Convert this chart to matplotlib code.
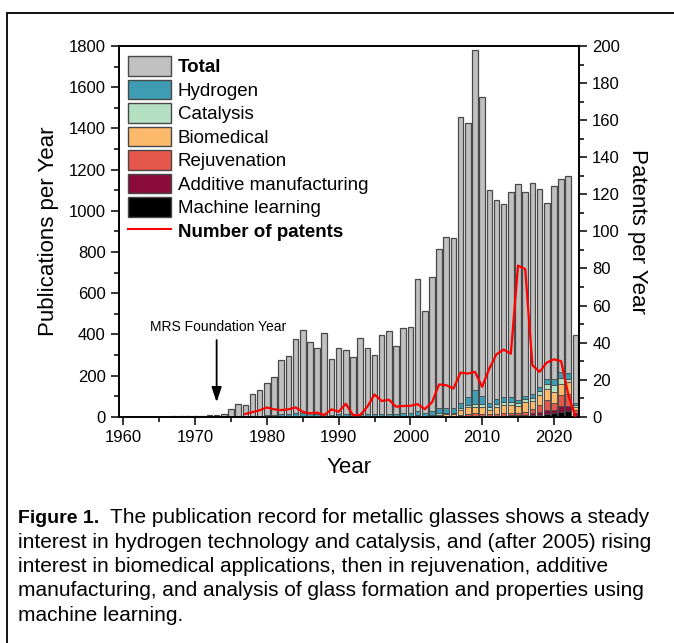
import numpy as np
import matplotlib
matplotlib.use("Agg")
import matplotlib.pyplot as plt
from matplotlib.patches import Patch, Rectangle
from matplotlib.lines import Line2D
from matplotlib.ticker import MultipleLocator

plt.rcParams['font.family'] = ['Liberation Sans', 'DejaVu Sans']

# publications (left axis)
years = np.arange(1967, 2024)
total = [2, 3, 3, 3, 5, 7, 9, 14, 37, 61, 55, 108, 132, 166, 194, 276, 297, 378,
         423, 363, 336, 408, 281, 336, 326, 290, 382, 334, 300, 397, 415, 342, 431,
         435, 669, 513, 677, 815, 871, 866, 1457, 1424, 1782, 1552, 1102, 1052, 1032,
         1089, 1132, 1089, 1137, 1107, 1036, 1118, 1153, 1168, 398]

# topic breakdown, 1978-2023
topic_years = np.arange(1978, 2024)
hydrogen = [3, 5, 8, 10, 12, 14, 18, 20, 16, 14, 12, 10, 12, 12, 10, 12, 12, 10, 12, 10,
            12, 14, 12, 20, 14, 18, 25, 25, 22, 25, 37, 65, 40, 22, 20, 22, 22, 15, 15, 15,
            20, 24, 29, 25, 30, 10]
catalysis = [0, 0, 0, 0, 0, 0, 0, 0, 0, 0, 0, 0, 1, 1, 1, 1, 1, 1, 2, 2,
             2, 2, 2, 3, 3, 4, 8, 5, 5, 12, 10, 16, 12, 12, 15, 15, 15, 12, 15, 15,
             21, 21, 32, 30, 15, 8]
biomedical = [0, 0, 0, 0, 0, 0, 0, 0, 0, 0, 0, 0, 0, 0, 0, 0, 0, 0, 1, 1,
              1, 2, 2, 3, 2, 4, 7, 10, 10, 22, 35, 32, 33, 22, 35, 40, 40, 35, 45, 40,
              45, 56, 52, 55, 60, 15]
rejuvenation = [0, 0, 0, 0, 0, 0, 0, 0, 0, 0, 0, 0, 0, 0, 0, 0, 0, 0, 0, 0,
                0, 0, 0, 0, 0, 0, 2, 3, 3, 6, 8, 12, 10, 8, 10, 12, 12, 12, 15, 20,
                35, 48, 37, 55, 55, 15]
additive = [0, 0, 0, 0, 0, 0, 0, 0, 0, 0, 0, 0, 0, 0, 0, 0, 0, 0, 0, 0,
            0, 0, 0, 0, 0, 0, 0, 0, 0, 1, 2, 2, 2, 2, 2, 3, 4, 4, 6, 10,
            16, 19, 16, 25, 25, 8]
machine_learning = [0, 0, 0, 0, 0, 0, 0, 0, 0, 0, 0, 0, 0, 0, 0, 0, 0, 0, 0, 0,
                    0, 0, 0, 0, 0, 0, 0, 0, 0, 2, 2, 2, 3, 2, 2, 2, 2, 2, 4, 8,
                    8, 13, 16, 25, 28, 9]

# patents (right axis)
patent_years = np.arange(1977, 2024)
patents = [1.5, 2.5, 3.5, 5, 4, 3.6, 4, 5, 2.7, 1.8, 2.2, 0.9, 4, 2.7, 7, 0.9, 0.9,
           5.4, 12, 8.5, 9.2, 5.4, 5.8, 5.9, 6.8, 4.1, 7.7, 17.4, 17, 15.2, 23.8,
           23.3, 24.2, 16.1, 26, 33.7, 36.2, 34, 81.5, 79.7, 27.8, 24.2, 29.2, 31,
           30, 12, 0]

stack = [("Machine learning", machine_learning, "#000000"),
         ("Additive manufacturing", additive, "#8a0a3a"),
         ("Rejuvenation", rejuvenation, "#e5564b"),
         ("Biomedical", biomedical, "#fdb96c"),
         ("Catalysis", catalysis, "#b4dfc0"),
         ("Hydrogen", hydrogen, "#3f9db3")]

fig = plt.figure(figsize=(6.74, 6.43), dpi=100)
ax = fig.add_axes([0.1766, 0.3519, 0.6825, 0.5766])
edge = "#484848"
w = 0.78

ax.bar(years, total, width=w, color="#c0c0c0", edgecolor=edge, linewidth=0.9, zorder=2)
bottom = np.zeros(len(topic_years))
for name, vals, col in stack:
    vals = np.array(vals, dtype=float)
    ax.bar(topic_years, vals, width=w, bottom=bottom, color=col, edgecolor=edge,
           linewidth=0.6, zorder=3)
    bottom += vals

ax.set_xlim(1959.4, 2023.5)
ax.set_ylim(0, 1800)
ax.xaxis.set_major_locator(MultipleLocator(10))
ax.xaxis.set_minor_locator(MultipleLocator(5))
ax.yaxis.set_major_locator(MultipleLocator(200))
ax.yaxis.set_minor_locator(MultipleLocator(100))
ax.tick_params(which="both", direction="out", labelsize=12, width=1.1)
ax.tick_params(which="major", length=6)
ax.tick_params(which="minor", length=3.5)
for s in ax.spines.values():
    s.set_linewidth(1.2)
ax.set_xlabel("Year", fontsize=16, labelpad=9)
ax.set_ylabel("Publications per Year", fontsize=16, labelpad=7)

ax.annotate("", xy=(1973, 57), xytext=(1973, 386),
            arrowprops=dict(arrowstyle="-|>,head_length=0.9,head_width=0.3",
                            color="black", lw=1.3), zorder=5)
ax.text(1973.2, 434, "MRS Foundation Year", fontsize=10, ha="center", va="center")

ax2 = ax.twinx()
ax2.plot(patent_years, patents, color="#ff0000", lw=1.6, zorder=4)
ax2.set_ylim(0, 200)
ax2.yaxis.set_major_locator(MultipleLocator(20))
ax2.yaxis.set_minor_locator(MultipleLocator(10))
ax2.tick_params(which="both", direction="out", labelsize=12, width=1.1)
ax2.tick_params(which="major", length=6)
ax2.tick_params(which="minor", length=3.5)
ax2.set_ylabel("Patents per Year", fontsize=16, rotation=270, labelpad=20)
for s in ax2.spines.values():
    s.set_linewidth(1.2)

handles = [Patch(facecolor="#c0c0c0", edgecolor=edge, label="Total")]
for name, vals, col in stack[::-1]:
    handles.append(Patch(facecolor=col, edgecolor=edge, label=name))
handles.append(Line2D([], [], color="#ff0000", lw=1.5, label="Number of patents"))
leg = ax2.legend(handles=handles, loc="upper left", bbox_to_anchor=(0.02, 0.972),
                 frameon=False, fontsize=13.5, handlelength=2.3, handleheight=1.2,
                 labelspacing=0.19, handletextpad=0.35, borderpad=0, borderaxespad=0)
for t in leg.get_texts():
    if t.get_text() in ("Total", "Number of patents"):
        t.set_fontweight("bold")

# outer frame
fig.patches.append(Rectangle((7 / 674, -0.1), 1.2, 1 - 13 / 643 + 0.1,
                             transform=fig.transFigure, fill=False, lw=1.3,
                             ec="black"))

# caption
lines = ["The publication record for metallic glasses shows a steady",
         "interest in hydrogen technology and catalysis, and (after 2005) rising",
         "interest in biomedical applications, then in rejuvenation, additive",
         "manufacturing, and analysis of glass formation and properties using",
         "machine learning."]
x0 = 18 / 674
base = [522.7, 547.5, 572, 596.5, 621]
r = fig.canvas.get_renderer()
fb = fig.text(x0, 1 - base[0] / 643, "Figure 1.", fontsize=14, fontweight="bold",
              va="baseline")
bb = fb.get_window_extent(renderer=r)
fig.text(bb.x1 / 674 + 11 / 674, 1 - base[0] / 643, lines[0], fontsize=15,
         va="baseline")
for ln, yb in zip(lines[1:], base[1:]):
    fig.text(x0, 1 - yb / 643, ln, fontsize=15, va="baseline")

fig.savefig("out.png", dpi=100)
